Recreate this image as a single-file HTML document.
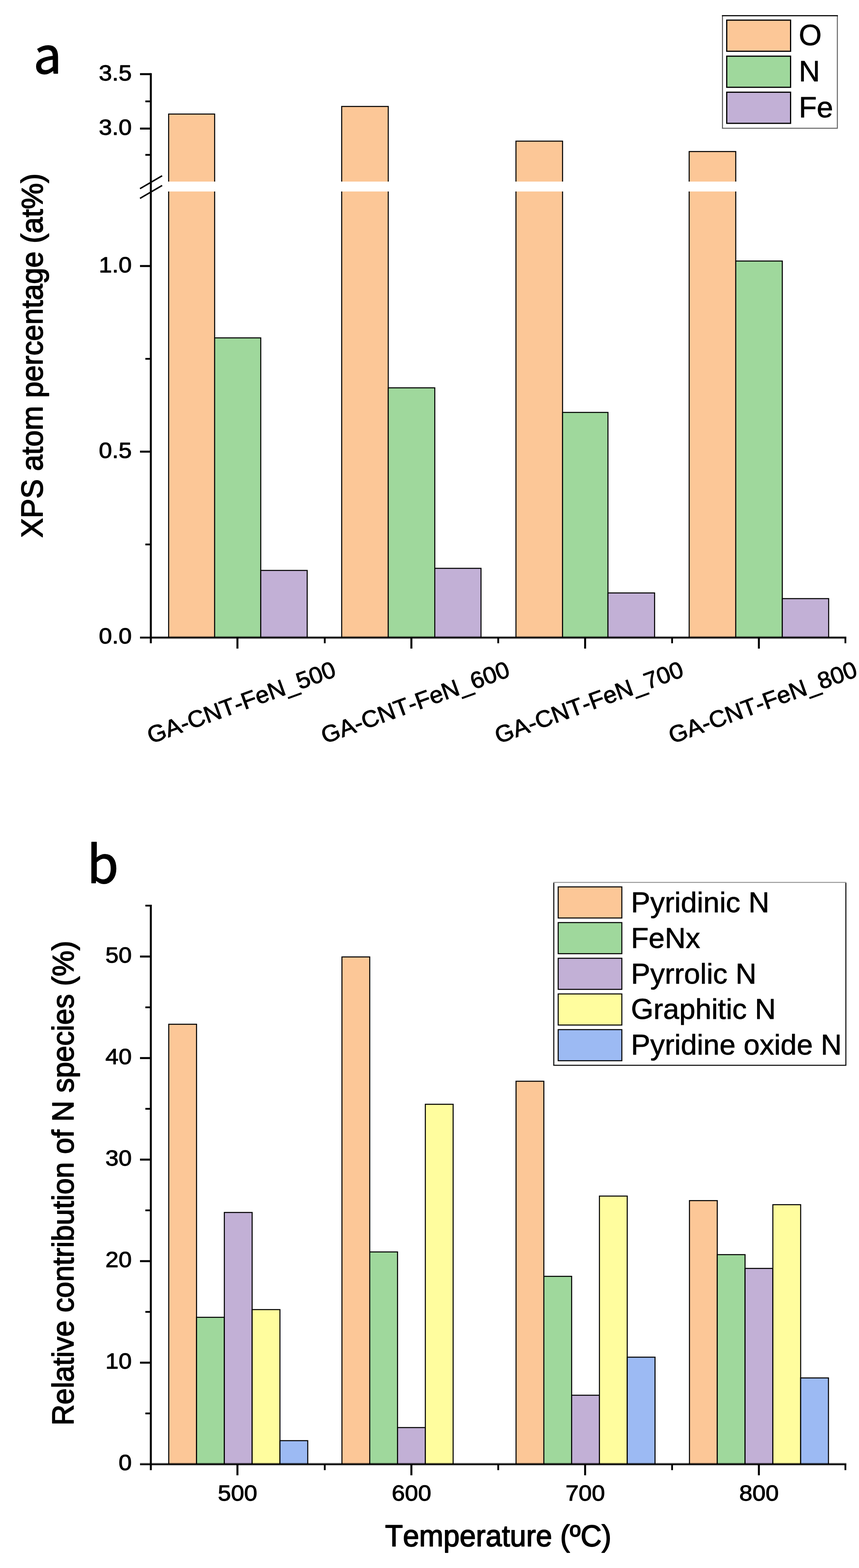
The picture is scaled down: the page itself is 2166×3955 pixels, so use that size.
<!DOCTYPE html>
<html lang="en"><head><meta charset="utf-8"><title>XPS atom percentage and N species</title>
<style>
html,body{margin:0;padding:0;background:#fff;}
body{width:2166px;height:3955px;overflow:hidden;}
svg{display:block;}
text{font-family:"Liberation Sans",sans-serif;fill:#000;stroke:#000;stroke-linejoin:round;font-kerning:none;}
.tk{font-size:55px;stroke-width:1.3;}
.ti{font-size:73px;stroke-width:2;}
.lg{font-size:73px;stroke-width:1;}
.pl{font-size:126px;font-family:"Noto Sans CJK SC","Liberation Sans",sans-serif;stroke-width:2;}
.bar{stroke:#000;stroke-width:2.6;}
.ax{stroke:#000;stroke-width:5;fill:none;}
.mt{stroke:#000;stroke-width:4.5;fill:none;}
.xh{stroke:#000;stroke-opacity:0.3;stroke-width:7.6;fill:none;}
.xa{stroke:#000;stroke-width:3.6;fill:none;}
</style></head><body>
<svg width="2166" height="3955" viewBox="0 0 2166 3955">
<rect x="0" y="0" width="2166" height="3955" fill="#fff"/>
<g id="panel-a">
<rect class="bar" x="425.2" y="287.7" width="116.0" height="1320.3" fill="#FCC797"/>
<rect class="bar" x="541.2" y="852.2" width="116.3" height="755.8" fill="#9FD89C"/>
<rect class="bar" x="657.5" y="1438.8" width="117.1" height="169.2" fill="#C2B0D6"/>
<rect class="bar" x="861.6" y="268.5" width="117.4" height="1339.5" fill="#FCC797"/>
<rect class="bar" x="979.0" y="978.2" width="117.3" height="629.8" fill="#9FD89C"/>
<rect class="bar" x="1096.3" y="1433.5" width="116.6" height="174.5" fill="#C2B0D6"/>
<rect class="bar" x="1301.0" y="356.0" width="117.5" height="1252.0" fill="#FCC797"/>
<rect class="bar" x="1418.5" y="1040.2" width="114.5" height="567.8" fill="#9FD89C"/>
<rect class="bar" x="1533.0" y="1495.6" width="117.6" height="112.4" fill="#C2B0D6"/>
<rect class="bar" x="1737.8" y="382.2" width="117.4" height="1225.8" fill="#FCC797"/>
<rect class="bar" x="1855.2" y="658.4" width="117.4" height="949.6" fill="#9FD89C"/>
<rect class="bar" x="1972.6" y="1509.9" width="116.9" height="98.1" fill="#C2B0D6"/>
<rect x="386" y="458" width="1760" height="25" fill="#fff"/>
<line class="xh" x1="353" y1="1608.2" x2="2134.1" y2="1608.2"/>
<line class="xa" x1="353" y1="1608.2" x2="2134.1" y2="1608.2"/>
<line class="ax" x1="380.3" y1="184.6" x2="380.3" y2="1622.5"/>
<line class="ax" x1="353" y1="187.0" x2="380.3" y2="187.0"/>
<line class="ax" x1="353" y1="324.3" x2="380.3" y2="324.3"/>
<line class="ax" x1="353" y1="671.0" x2="380.3" y2="671.0"/>
<line class="ax" x1="353" y1="1139.2" x2="380.3" y2="1139.2"/>
<line class="mt" x1="366.5" y1="255.7" x2="380.3" y2="255.7"/>
<line class="mt" x1="366.5" y1="390.6" x2="380.3" y2="390.6"/>
<line class="mt" x1="366.5" y1="905.1" x2="380.3" y2="905.1"/>
<line class="mt" x1="366.5" y1="1373.3" x2="380.3" y2="1373.3"/>
<line class="ax" x1="598.7" y1="1608.0" x2="598.7" y2="1636.0"/>
<line class="ax" x1="1037.3" y1="1608.0" x2="1037.3" y2="1636.0"/>
<line class="ax" x1="1475.4" y1="1608.0" x2="1475.4" y2="1636.0"/>
<line class="ax" x1="1913.5" y1="1608.0" x2="1913.5" y2="1636.0"/>
<line class="mt" x1="818.9" y1="1608.0" x2="818.9" y2="1622.5"/>
<line class="mt" x1="1256.3" y1="1608.0" x2="1256.3" y2="1622.5"/>
<line class="mt" x1="1694.7" y1="1608.0" x2="1694.7" y2="1622.5"/>
<line class="mt" x1="2131.7" y1="1608.0" x2="2131.7" y2="1622.5"/>
<line x1="353" y1="475.9" x2="408.8" y2="443.4" stroke="#000" stroke-width="3.6"/>
<line x1="353" y1="500.4" x2="408.8" y2="467.9" stroke="#000" stroke-width="3.6"/>
<text class="tk" transform="translate(332.3,202.9) scale(1.086,1)" text-anchor="end">3.5</text>
<text class="tk" transform="translate(332.3,340.2) scale(1.086,1)" text-anchor="end">3.0</text>
<text class="tk" transform="translate(332.3,686.9) scale(1.086,1)" text-anchor="end">1.0</text>
<text class="tk" transform="translate(332.3,1155.1) scale(1.086,1)" text-anchor="end">0.5</text>
<text class="tk" transform="translate(332.3,1623.4) scale(1.086,1)" text-anchor="end">0.0</text>
<text class="ti" transform="translate(107.0,896.8) rotate(-90) scale(1.0112,1.045)" text-anchor="middle">XPS atom percentage (at%)</text>
<text class="tk" style="font-size:59px" transform="translate(608.2,1771.0) rotate(-20) scale(1.025,1)" y="21" text-anchor="middle">GA-CNT-FeN_500</text>
<text class="tk" style="font-size:59px" transform="translate(1046.8,1771.0) rotate(-20) scale(1.025,1)" y="21" text-anchor="middle">GA-CNT-FeN_600</text>
<text class="tk" style="font-size:59px" transform="translate(1484.9,1771.0) rotate(-20) scale(1.025,1)" y="21" text-anchor="middle">GA-CNT-FeN_700</text>
<text class="tk" style="font-size:59px" transform="translate(1923.0,1771.0) rotate(-20) scale(1.025,1)" y="21" text-anchor="middle">GA-CNT-FeN_800</text>
<rect x="1821.8" y="39.6" width="289.6" height="283.8" fill="#fff"/>
<path d="M1821.8 38.3V324.6" stroke="#555" stroke-width="2.5" fill="none"/>
<path d="M2111.4 38.3V324.6M1820.6 323.4H2112.6" stroke="#666" stroke-width="2.5" fill="none"/>
<path d="M1820.6 39.6H2112.6" stroke="#000" stroke-width="2.6" fill="none"/>
<rect x="1832.5" y="50.8" width="161" height="78.5" fill="#FCC797" stroke="#000" stroke-width="3"/>
<text class="lg" style="font-size:74px" transform="translate(2014.3,113.5)" text-anchor="start">O</text>
<rect x="1832.5" y="141.7" width="161" height="78.5" fill="#9FD89C" stroke="#000" stroke-width="3"/>
<text class="lg" style="font-size:74px" transform="translate(2014.3,204.5)" text-anchor="start">N</text>
<rect x="1832.5" y="232.6" width="161" height="78.5" fill="#C2B0D6" stroke="#000" stroke-width="3"/>
<text class="lg" style="font-size:74px" transform="translate(2014.3,296.0)" text-anchor="start">Fe</text>
<text class="pl" transform="translate(84.5,185.3)" text-anchor="start">a</text>
</g>
<g id="panel-b">
<rect class="bar" x="425.5" y="2583.5" width="70.1" height="1109.7" fill="#FCC797"/>
<rect class="bar" x="495.6" y="3322.7" width="70.1" height="370.5" fill="#9FD89C"/>
<rect class="bar" x="565.7" y="3058.2" width="70.1" height="635.0" fill="#C2B0D6"/>
<rect class="bar" x="635.8" y="3303.2" width="70.1" height="390.0" fill="#FFFD9E"/>
<rect class="bar" x="705.9" y="3633.8" width="70.1" height="59.4" fill="#9CBAF3"/>
<rect class="bar" x="862.2" y="2413.7" width="70.1" height="1279.5" fill="#FCC797"/>
<rect class="bar" x="932.3" y="3157.8" width="70.1" height="535.4" fill="#9FD89C"/>
<rect class="bar" x="1002.4" y="3600.8" width="70.1" height="92.4" fill="#C2B0D6"/>
<rect class="bar" x="1072.5" y="2785.3" width="70.1" height="907.9" fill="#FFFD9E"/>
<rect class="bar" x="1301.2" y="2727.2" width="70.1" height="966.0" fill="#FCC797"/>
<rect class="bar" x="1371.3" y="3219.3" width="70.1" height="473.9" fill="#9FD89C"/>
<rect class="bar" x="1441.4" y="3519.2" width="70.1" height="174.0" fill="#C2B0D6"/>
<rect class="bar" x="1511.5" y="3016.9" width="70.1" height="676.3" fill="#FFFD9E"/>
<rect class="bar" x="1581.6" y="3423.2" width="70.1" height="270.0" fill="#9CBAF3"/>
<rect class="bar" x="1738.5" y="3028.3" width="70.1" height="664.9" fill="#FCC797"/>
<rect class="bar" x="1808.6" y="3164.6" width="70.1" height="528.6" fill="#9FD89C"/>
<rect class="bar" x="1878.7" y="3199.3" width="70.1" height="493.9" fill="#C2B0D6"/>
<rect class="bar" x="1948.8" y="3038.6" width="70.1" height="654.6" fill="#FFFD9E"/>
<rect class="bar" x="2018.9" y="3475.6" width="70.1" height="217.6" fill="#9CBAF3"/>
<line class="xh" x1="353" y1="3693.2" x2="2134.1" y2="3693.2"/>
<line class="xa" x1="353" y1="3693.2" x2="2134.1" y2="3693.2"/>
<line class="ax" x1="380.3" y1="2282" x2="380.3" y2="3708.2"/>
<line class="ax" x1="353" y1="3437.1" x2="380.3" y2="3437.1"/>
<line class="ax" x1="353" y1="3181.0" x2="380.3" y2="3181.0"/>
<line class="ax" x1="353" y1="2924.9" x2="380.3" y2="2924.9"/>
<line class="ax" x1="353" y1="2668.8" x2="380.3" y2="2668.8"/>
<line class="ax" x1="353" y1="2412.7" x2="380.3" y2="2412.7"/>
<line class="mt" x1="366.5" y1="3565.1" x2="380.3" y2="3565.1"/>
<line class="mt" x1="366.5" y1="3309.0" x2="380.3" y2="3309.0"/>
<line class="mt" x1="366.5" y1="3052.9" x2="380.3" y2="3052.9"/>
<line class="mt" x1="366.5" y1="2796.8" x2="380.3" y2="2796.8"/>
<line class="mt" x1="366.5" y1="2540.8" x2="380.3" y2="2540.8"/>
<line class="mt" x1="366.5" y1="2284.3" x2="380.3" y2="2284.3"/>
<line class="ax" x1="598.7" y1="3693.2" x2="598.7" y2="3721.2"/>
<line class="ax" x1="1037.3" y1="3693.2" x2="1037.3" y2="3721.2"/>
<line class="ax" x1="1475.4" y1="3693.2" x2="1475.4" y2="3721.2"/>
<line class="ax" x1="1913.5" y1="3693.2" x2="1913.5" y2="3721.2"/>
<line class="mt" x1="818.9" y1="3693.2" x2="818.9" y2="3708.2"/>
<line class="mt" x1="1256.3" y1="3693.2" x2="1256.3" y2="3708.2"/>
<line class="mt" x1="1694.7" y1="3693.2" x2="1694.7" y2="3708.2"/>
<line class="mt" x1="2131.7" y1="3693.2" x2="2131.7" y2="3708.2"/>
<text class="tk" transform="translate(332.3,3708.4) scale(1.086,1)" text-anchor="end">0</text>
<text class="tk" transform="translate(332.3,3452.3) scale(1.086,1)" text-anchor="end">10</text>
<text class="tk" transform="translate(332.3,3196.2) scale(1.086,1)" text-anchor="end">20</text>
<text class="tk" transform="translate(332.3,2940.1) scale(1.086,1)" text-anchor="end">30</text>
<text class="tk" transform="translate(332.3,2684.0) scale(1.086,1)" text-anchor="end">40</text>
<text class="tk" transform="translate(332.3,2427.9) scale(1.086,1)" text-anchor="end">50</text>
<text class="tk" transform="translate(599.0,3785.0) scale(1.086,1)" text-anchor="middle">500</text>
<text class="tk" transform="translate(1037.6,3785.0) scale(1.086,1)" text-anchor="middle">600</text>
<text class="tk" transform="translate(1475.7,3785.0) scale(1.086,1)" text-anchor="middle">700</text>
<text class="tk" transform="translate(1913.8,3785.0) scale(1.086,1)" text-anchor="middle">800</text>
<text class="ti" transform="translate(1256.3,3900.0) scale(1.008,1.045)" text-anchor="middle">Temperature (ºC)</text>
<text class="ti" transform="translate(185.3,2984.3) rotate(-90) scale(1.0045,1.045)" text-anchor="middle">Relative contribution of N species (%)</text>
<rect x="1396.4" y="2225.7" width="736.5" height="461.3" fill="#fff"/>
<path d="M1395.1 2225.7H2134.1" stroke="#9a9a9a" stroke-width="2.5" fill="none"/>
<path d="M1396.4 2227V2688.2M2132.9 2227V2688.2M1395.1 2687H2134.1" stroke="#000" stroke-width="2.5" fill="none"/>
<rect x="1407.5" y="2237.0" width="160.5" height="78.5" fill="#FCC797" stroke="#000" stroke-width="2.6"/>
<text class="lg" transform="translate(1591.0,2300.8)" text-anchor="start">Pyridinic N</text>
<rect x="1407.5" y="2327.0" width="160.5" height="78.5" fill="#9FD89C" stroke="#000" stroke-width="2.6"/>
<text class="lg" transform="translate(1591.0,2390.7)" text-anchor="start">FeNx</text>
<rect x="1407.5" y="2417.0" width="160.5" height="78.5" fill="#C2B0D6" stroke="#000" stroke-width="2.6"/>
<text class="lg" transform="translate(1591.0,2480.5)" text-anchor="start">Pyrrolic N</text>
<rect x="1407.5" y="2507.0" width="160.5" height="78.5" fill="#FFFD9E" stroke="#000" stroke-width="2.6"/>
<text class="lg" transform="translate(1591.0,2570.4)" text-anchor="start">Graphitic N</text>
<rect x="1407.5" y="2597.0" width="160.5" height="78.5" fill="#9CBAF3" stroke="#000" stroke-width="2.6"/>
<text class="lg" transform="translate(1591.0,2660.2)" text-anchor="start">Pyridine oxide N</text>
<text class="pl" style="font-size:128.5px" transform="translate(219.5,2227.0)" text-anchor="start">b</text>
</g>
</svg>
</body></html>
